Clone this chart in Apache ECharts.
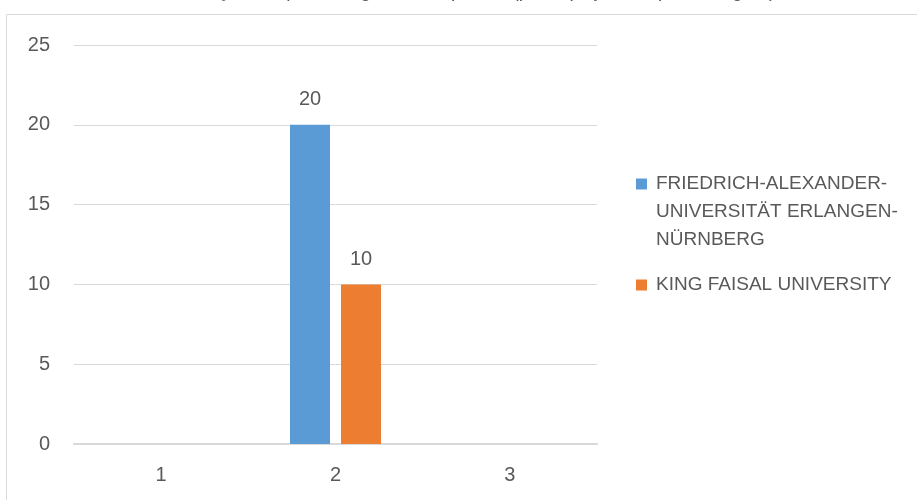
<!DOCTYPE html>
<html>
<head>
<meta charset="utf-8">
<script src="https://cdn.jsdelivr.net/npm/echarts@6/dist/echarts.min.js"></script>
<style>
  html, body { margin: 0; padding: 0; background: #fff; }
  #main { width: 917px; height: 500px; }
</style>
</head>
<body>
<div id="main"></div>
<script>
var categories = ['1', '2', '3'];
var fauValues = [null, 20, null];
var kfuValues = [null, 10, null];
var seriesNames = ['FRIEDRICH-ALEXANDER-UNIVERSITÄT ERLANGEN-NÜRNBERG', 'KING FAISAL UNIVERSITY'];
var yTicks = [0, 5, 10, 15, 20, 25];

var myChart = echarts.init(document.getElementById('main'));
var font = 'Liberation Sans';
var textColor = '#595959';

option = {
    animation: false,
    textStyle: { fontFamily: font },
    title: {
        text: 'Colaboração em percentagem entre países (participação em percentagem)',
        left: 'center',
        top: -23,
        textStyle: { fontFamily: font, fontSize: 19, fontWeight: 'normal', color: textColor }
    },
    graphic: [{
        type: 'rect',
        shape: { x: 6.5, y: 14.5, width: 940, height: 520 },
        style: { fill: 'none', stroke: '#d9d9d9', lineWidth: 1 },
        silent: true
    }],
    legend: [
        {
            orient: 'vertical',
            left: 631,
            top: 109,
            icon: 'rect',
            itemWidth: 11,
            itemHeight: 11,
            data: [seriesNames[0]],
            // two empty lines first so the square sits on the first text line
            formatter: function (name) {
                return '\n\nFRIEDRICH-ALEXANDER-\nUNIVERSITÄT ERLANGEN-\nNÜRNBERG';
            },
            textStyle: { fontFamily: font, fontSize: 19, color: textColor, lineHeight: 28, padding: [0, 0, 0, 4] }
        },
        {
            orient: 'vertical',
            left: 631,
            top: 269,
            icon: 'rect',
            itemWidth: 11,
            itemHeight: 11,
            data: [seriesNames[1]],
            textStyle: { fontFamily: font, fontSize: 19, color: textColor, lineHeight: 22, padding: [0, 0, 0, 4] }
        }
    ],
    grid: {
        left: 74,
        right: 320,
        top: 45,
        bottom: 56
    },
    xAxis: {
        type: 'category',
        data: categories,
        axisLine: { lineStyle: { color: '#d9d9d9', width: 2 } },
        axisTick: { show: false },
        axisLabel: { color: textColor, fontSize: 20, fontFamily: font, margin: 21 }
    },
    yAxis: {
        type: 'value',
        min: yTicks[0],
        max: yTicks[yTicks.length - 1],
        interval: 5,
        axisLine: { show: false },
        axisTick: { show: false },
        axisLabel: { color: textColor, fontSize: 20, fontFamily: font, margin: 24 },
        splitLine: { lineStyle: { color: '#d9d9d9', width: 1 } }
    },
    series: [
        {
            name: seriesNames[0],
            type: 'bar',
            data: fauValues,
            barWidth: 40,
            barGap: '27.5%',
            itemStyle: { color: '#5B9BD5' },
            label: { show: true, position: 'top', distance: 15, color: textColor, fontSize: 20, fontFamily: font }
        },
        {
            name: seriesNames[1],
            type: 'bar',
            data: kfuValues,
            barWidth: 40,
            barGap: '27.5%',
            itemStyle: { color: '#ED7D31' },
            label: { show: true, position: 'top', distance: 15, color: textColor, fontSize: 20, fontFamily: font }
        }
    ]
};

myChart.setOption(option);
</script>
</body>
</html>
